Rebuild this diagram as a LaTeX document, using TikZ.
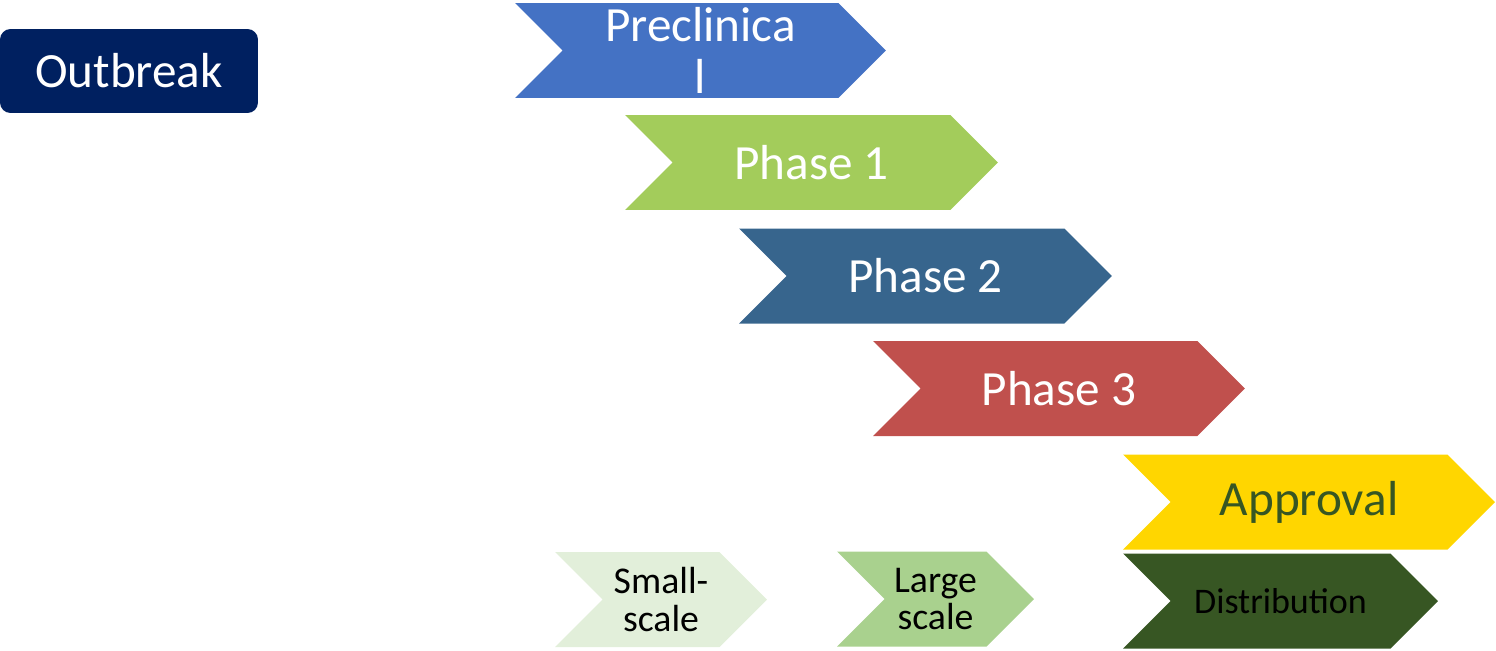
\documentclass[tikz,border=0pt]{standalone}
\usepackage{fontspec}
\setmainfont{Carlito}
\usetikzlibrary{shapes.symbols}
\definecolor{outbreakblue}{HTML}{002060}
\definecolor{preclinblue}{HTML}{4472C4}
\definecolor{phaseonegreen}{HTML}{A3CC5B}
\definecolor{phasetwoblue}{HTML}{37658D}
\definecolor{phasethreered}{HTML}{C0504D}
\definecolor{approvalyellow}{HTML}{FFD600}
\definecolor{darkgreen}{HTML}{375623}
\definecolor{smallgreen}{HTML}{E2EFDA}
\definecolor{largegreen}{HTML}{A9D18E}
\tikzset{
    chevron/.style={signal, signal from=west, signal to=east,
        signal pointer angle=90, minimum height=1.9cm, inner sep=0pt,
        align=center, text=white, font=\fontsize{28}{30}\selectfont},
    smallchevron/.style={chevron, text=black,
        font=\fontsize{21.5}{21.6}\selectfont},
}

\begin{document}
\begin{tikzpicture}[x=0.02cm,y=-0.02cm]
        \useasboundingbox (0,0) rectangle (1496,650);
        \node[fill=outbreakblue, rounded corners=6pt, minimum width=5.16cm, minimum height=1.68cm,
            text=white, font=\fontsize{28}{30}\selectfont] (outbreak) at (129,71) {Outbreak};
        \node[chevron, fill=preclinblue, minimum width=7.42cm] (preclinical) at (700.5,50.5) {Preclinica\\l};
        \node[chevron, fill=phaseonegreen, minimum width=7.46cm] (phase1) at (811.5,162.5) {Phase 1};
        \node[chevron, fill=phasetwoblue, minimum width=7.46cm] (phase2) at (925.5,276) {Phase 2};
        \node[chevron, fill=phasethreered, minimum width=7.44cm] (phase3) at (1059,388.5) {Phase 3};
        \node[chevron, fill=approvalyellow, text=darkgreen, minimum width=7.44cm] (approval) at (1309,502) {Approval};
        \node[smallchevron, fill=darkgreen, minimum width=6.3cm, font=\fontsize{20.5}{21}\selectfont] (distribution) at (1280.5,601) {Distribution};
        \node[smallchevron, fill=smallgreen, minimum width=4.24cm] (smallscale) at (661,599.5) {Small-\\scale};
        \node[smallchevron, fill=largegreen, minimum width=3.94cm] (largescale) at (935.5,599) {Large\\scale};
    \end{tikzpicture}
\end{document}
